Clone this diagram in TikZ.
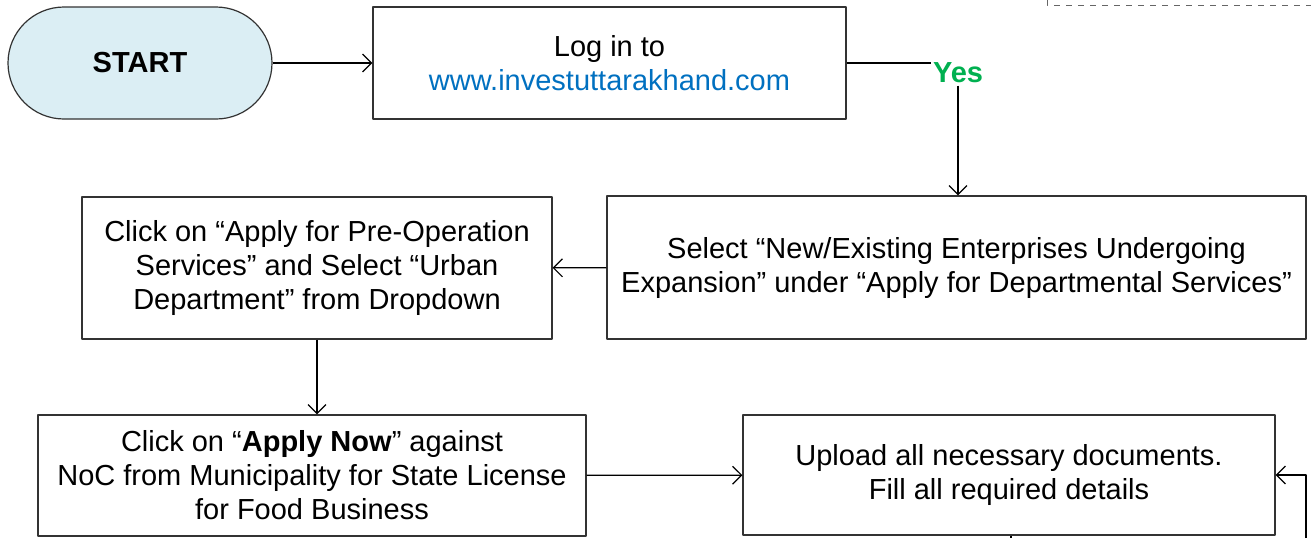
\documentclass[tikz,border=0pt]{standalone}
\usepackage{fontspec}
\setmainfont{Liberation Sans}
\usetikzlibrary{arrows.meta}
\definecolor{startfill}{HTML}{DBEEF4}
\definecolor{urlblue}{HTML}{0070C0}
\definecolor{yesgreen}{HTML}{00B050}
\begin{document}
\begin{tikzpicture}[x=0.5pt, y=-0.5pt, line join=round, >={Straight Barb[length=4.5pt,width=9pt]},
	font=\fontsize{14.5}{17}\selectfont,
	box/.style={draw=black!80, line width=0.6pt, align=center, inner sep=2pt},
	term/.style={draw=black!80, line width=0.6pt, fill=startfill, rounded corners=28pt, minimum width=132pt, minimum height=56pt, font=\fontsize{14.5}{17}\selectfont\bfseries},
	arrow/.style={->, line width=0.6pt}]
	\useasboundingbox (0,0) rectangle (1311,538);
	\node[term] (start) at (140,63) {START};
	\node[box, minimum width=236.5pt, minimum height=56pt] (login) at (609.5,63) {Log in to\\\textcolor{urlblue}{www.investuttarakhand.com}};
	\node[font=\fontsize{14.5}{17}\selectfont\bfseries, text=yesgreen, inner sep=1pt] (yes) at (958,73) {Yes};
	\node[box, minimum width=349.5pt, minimum height=71.5pt] (select) at (956.5,267.5) {Select “New/Existing Enterprises Undergoing\\Expansion” under “Apply for Departmental Services”};
	\node[box, minimum width=235pt, minimum height=71pt] (click) at (317,268) {Click on “Apply for Pre-Operation\\Services” and Select “Urban\\Department” from Dropdown};
	\node[box, minimum width=274pt, minimum height=60.5pt] (apply) at (312,475.5) {Click on “\textbf{Apply Now}” against\\NoC from Municipality for State License\\for Food Business};
	\node[box, minimum width=266pt, minimum height=60pt] (upload) at (1009,475) {Upload all necessary documents.\\Fill all required details};
	\coordinate (back) at (1306,538);
	\coordinate (down) at (1011,538);
	\draw[arrow] (start) -- (login);
	\draw[line width=0.6pt] (login.east) -- (login.east -| yes.west);
	\draw[arrow] (yes.south) -- (yes.south |- select.north);
	\draw[arrow] (select) -- (click);
	\draw[arrow] (click.south) -- (click.south |- apply.north);
	\draw[arrow] (apply) -- (upload);
	\draw[arrow] (back) |- (upload.east);
	\draw[line width=0.6pt] (upload.south -| down) -- (down);
	\draw[dashed, black!60, line width=0.5pt] (1047,0) -- (1047,5) -- (1311,5);
\end{tikzpicture}
\end{document}
